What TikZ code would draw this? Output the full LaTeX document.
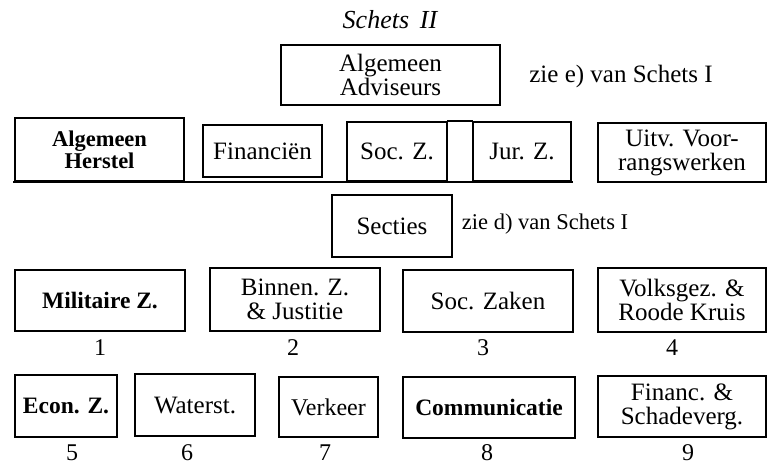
\documentclass[tikz,border=0pt]{standalone}
\usepackage{fontspec}
\setmainfont{Liberation Serif}
\begin{document}
\begin{tikzpicture}[x=1pt,y=-1pt,
  box/.style={draw=black,line width=2.3pt,inner sep=0pt,align=center,
    font=\fontsize{25}{24}\selectfont},
  boldbox/.style={box,font=\fontsize{23.5}{23}\selectfont\bfseries},
  lbl/.style={inner sep=0pt,font=\fontsize{25}{24}\selectfont},
  num/.style={inner sep=0pt,font=\fontsize{24}{24}\selectfont},
  rule/.style={line width=2.3pt,line cap=rect}]
\useasboundingbox (0,0) rectangle (770,467);
\node[lbl,font=\fontsize{26}{26}\selectfont\itshape] (title) at (390,20) {Schets \,II};
\node[box,minimum width=219pt,minimum height=60pt] (adv) at (390.5,75) {Algemeen\\Adviseurs};
\node[lbl] (ziee) at (621,76) {zie e) van Schets I};
\node[boldbox,font=\fontsize{22.5}{22}\selectfont\bfseries,minimum width=169pt,minimum height=63pt] (herstel) at (99.5,149.5) {Algemeen\\Herstel};
\node[box,minimum width=119pt,minimum height=52pt] (fin) at (262.5,151) {Financiën};
\node[box,minimum width=100pt,minimum height=59pt] (soc) at (397,151.5) {Soc. Z.};
\node[box,minimum width=98pt,minimum height=59pt] (jur) at (522,151.5) {Jur. Z.};
\node[box,minimum width=168pt,minimum height=59pt] (uitv) at (682,152.5) {Uitv. Voor-\\rangswerken};
\draw[rule] (herstel.south west) -- (jur.south east);
\draw[rule] (soc.north east) -- (jur.north west);
\node[box,minimum width=120pt,minimum height=62pt] (secties) at (392,226) {Secties};
\node[lbl,font=\fontsize{22.5}{22}\selectfont] (zied) at (545,224) {zie d) van Schets I};
\node[boldbox,minimum width=170pt,minimum height=61pt] (mil) at (100,300.5) {Militaire Z.};
\node[box,minimum width=170pt,minimum height=63pt] (bin) at (295,299.5) {Binnen. Z.\\\& Justitie};
\node[box,minimum width=170pt,minimum height=62pt] (socz) at (488,301) {Soc. Zaken};
\node[box,minimum width=168pt,minimum height=64pt] (volk) at (682,300) {Volksgez. \&\\Roode Kruis};
\node[num] (n1) at (100,348) {1};
\node[num] (n2) at (293,348) {2};
\node[num] (n3) at (483,348) {3};
\node[num] (n4) at (672,348) {4};
\node[boldbox,minimum width=102pt,minimum height=62pt] (econ) at (66,406) {Econ. Z.};
\node[box,minimum width=120pt,minimum height=62pt] (wat) at (195,405) {Waterst.};
\node[box,font=\fontsize{24}{24}\selectfont,minimum width=99pt,minimum height=60pt] (ver) at (328.5,407) {Verkeer};
\node[boldbox,minimum width=172pt,minimum height=61pt] (comm) at (489,407.5) {Communicatie};
\node[box,minimum width=168pt,minimum height=61pt] (finan) at (682,406.5) {Financ. \&\\Schadeverg.};
\node[num] (n5) at (72,453) {5};
\node[num] (n6) at (187,453) {6};
\node[num] (n7) at (325,453) {7};
\node[num] (n8) at (487,453) {8};
\node[num] (n9) at (688,453) {9};
\end{tikzpicture}
\end{document}
